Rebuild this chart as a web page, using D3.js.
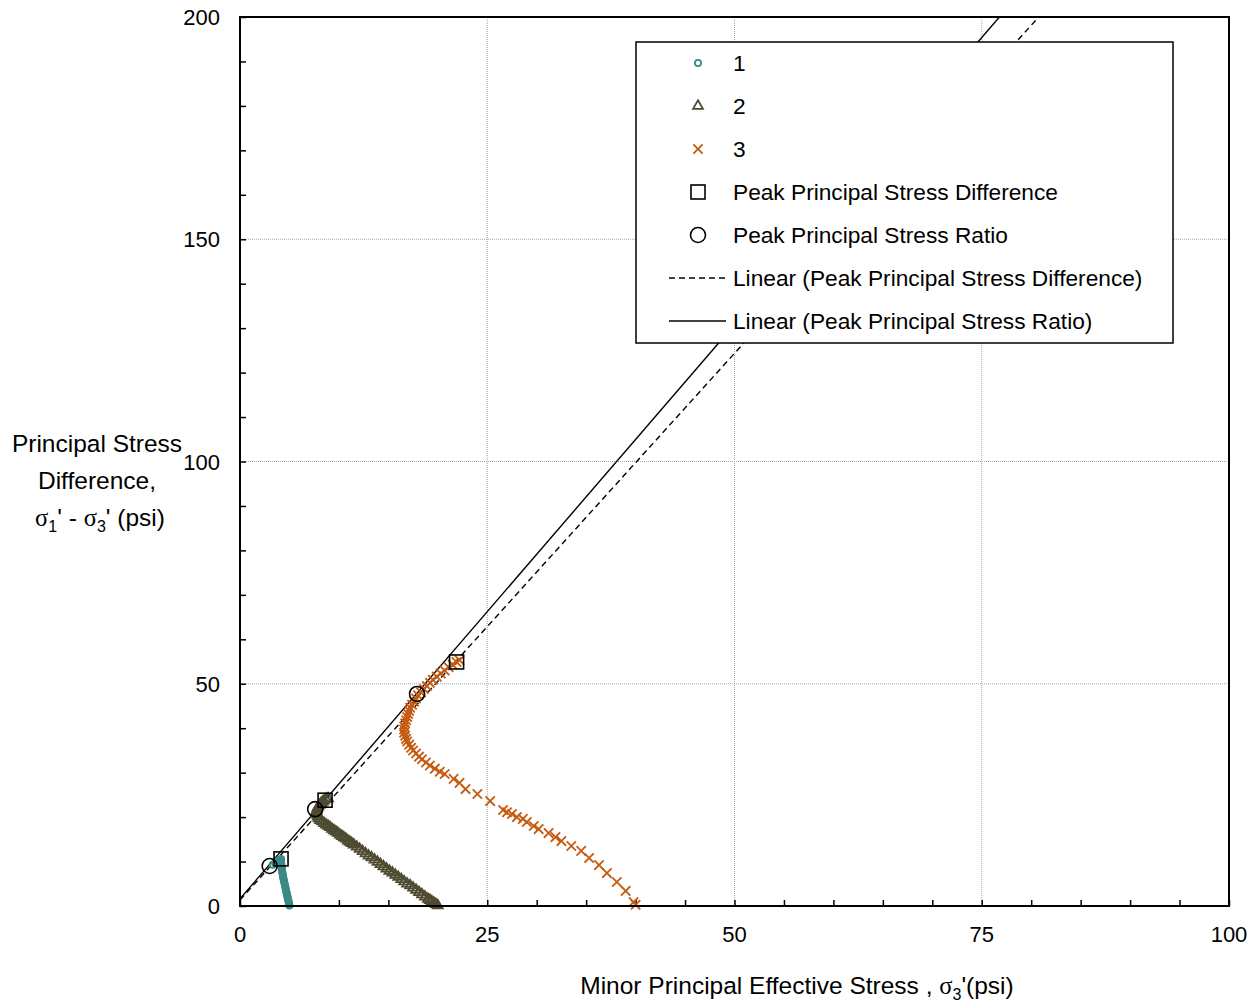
<!DOCTYPE html>
<html>
<head>
<meta charset="utf-8">
<script src="https://cdn.jsdelivr.net/npm/d3@7"></script>
<style>
  body { margin: 0; background: #fff; }
  text { font-family: "Liberation Sans", Arial, sans-serif; fill: #000; }
  .sig { font-family: "Liberation Serif", "Times New Roman", serif; }
</style>
</head>
<body>
<svg id="chart" width="1254" height="1002"></svg>
<script>
// test 1 (teal circles)
var s1x = [5.0,4.97,4.94,4.91,4.88,4.85,4.82,4.79,4.76,4.73,4.70,4.66,4.62,4.58,4.54,4.50,4.46,4.42,4.38,4.35,4.32,4.29,4.26,4.23,4.21,4.19,4.17,4.16,4.15,4.15,4.15,4.0,3.8,3.55,3.3];
var s1y = [0.1,0.4,0.7,1.0,1.3,1.6,1.9,2.2,2.5,2.8,3.1,3.5,3.9,4.3,4.7,5.1,5.5,5.9,6.3,6.7,7.1,7.5,7.9,8.3,8.7,9.1,9.5,9.9,10.2,10.45,10.6,10.4,10.1,9.7,9.3];
// test 2 (olive triangles)
var s2x = [20.0,19.8,19.6,19.4,19.2,19.0,18.7,18.4,18.1,17.8,17.5,17.2,16.9,16.6,16.3,16.0,15.7,15.4,15.1,14.8,14.5,14.2,13.9,13.6,13.3,13.0,12.7,12.4,12.1,11.8,11.5,11.3,11.1,10.9,10.7,10.5,10.3,10.1,9.9,9.7,9.5,9.3,9.1,8.9,8.7,8.5,8.3,8.1,7.95,7.85,7.8,7.75,7.75,7.8,7.9,8.05,8.2,8.35,8.5,8.7,8.9];
var s2y = [0.1,0.4,0.7,1.0,1.3,1.6,2.1,2.6,3.1,3.6,4.1,4.6,5.0,5.5,6.0,6.5,7.0,7.5,7.9,8.4,8.9,9.4,9.9,10.4,10.9,11.3,11.8,12.3,12.8,13.3,13.8,14.1,14.4,14.7,15.1,15.4,15.7,16.0,16.4,16.7,17.0,17.3,17.7,18.0,18.3,18.6,19.0,19.3,19.7,20.1,20.5,20.9,21.4,21.9,22.3,22.7,23.1,23.4,23.7,24.0,24.2];
// test 3 (orange crosses)
var s3x = [40.0,39.8,39.0,38.1,37.1,36.3,35.3,34.5,33.5,32.5,31.9,31.2,30.2,29.7,29.0,28.6,28.0,27.5,27.0,26.6,25.3,24.0,22.8,22.2,21.6,20.7,20.2,19.7,19.2,18.8,18.4,18.1,17.8,17.5,17.3,17.1,16.9,16.8,16.7,16.6,16.6,16.6,16.7,16.8,16.9,17.0,17.1,17.2,17.4,17.6,17.8,18.0,18.3,18.6,18.9,19.2,19.5,19.9,20.3,20.7,21.1,21.5,21.9,22.2];
var s3y = [0.3,0.9,3.4,5.4,7.4,9.2,10.8,12.4,13.5,14.6,15.5,16.4,17.3,18.0,18.9,19.6,20.0,20.7,21.1,21.6,23.6,25.2,26.3,27.7,28.6,29.7,30.2,30.9,31.6,32.3,33.0,33.6,34.3,35.0,35.6,36.3,37.0,37.6,38.3,39.0,39.7,40.4,41.1,41.8,42.5,43.2,43.9,44.6,45.3,46.0,46.7,47.4,48.1,48.8,49.5,50.2,50.9,51.6,52.3,53.0,53.7,54.3,54.9,55.3];
// peaks
var peakDiffX = [4.15, 8.6, 21.9];
var peakDiffY = [10.6, 23.8, 54.9];
var peakRatioX = [3.0, 7.6, 17.9];
var peakRatioY = [9.0, 21.8, 47.7];
// axes
var xTicks = [0, 25, 50, 75, 100];
var yTicks = [0, 50, 100, 150, 200];
var legendLabels = ["1", "2", "3", "Peak Principal Stress Difference", "Peak Principal Stress Ratio",
  "Linear (Peak Principal Stress Difference)", "Linear (Peak Principal Stress Ratio)"];

var seriesColors = ["#3b8a87", "#4f4b32", "#c55a11"];

var svg = d3.select("#chart");
var pL = 240, pR = 1229, pT = 17, pB = 906;

var x = d3.scaleLinear().domain([0, 100]).range([pL, pR]);
var y = d3.scaleLinear().domain([0, 200]).range([pB, pT]);

// gridlines
var grid = svg.append("g");
grid.selectAll("line.gx").data(xTicks.slice(1, -1)).enter().append("line")
  .attr("x1", d => x(d)).attr("x2", d => x(d))
  .attr("y1", pT).attr("y2", pB)
  .style("stroke", "#a6a6a6").style("stroke-width", 1).style("stroke-dasharray", "1,1");
grid.selectAll("line.gy").data(yTicks.slice(1, -1)).enter().append("line")
  .attr("x1", pL).attr("x2", pR)
  .attr("y1", d => y(d)).attr("y2", d => y(d))
  .style("stroke", "#a6a6a6").style("stroke-width", 1).style("stroke-dasharray", "1,1");

// axes, ticks inside
var xAxis = d3.axisBottom(x).ticks(20).tickSize(-6).tickFormat("");
var yAxis = d3.axisLeft(y).ticks(20).tickSize(-6).tickFormat("");
svg.append("g").attr("transform", "translate(0," + pB + ")").call(xAxis)
  .call(g => g.select(".domain").remove())
  .selectAll("line").style("stroke", "#000").style("stroke-width", 1.5);
svg.append("g").attr("transform", "translate(" + pL + ",0)").call(yAxis)
  .call(g => g.select(".domain").remove())
  .selectAll("line").style("stroke", "#000").style("stroke-width", 1.5);

// tick labels
svg.selectAll("text.xl").data(xTicks).enter().append("text")
  .attr("x", d => x(d)).attr("y", 942)
  .attr("text-anchor", "middle").style("font-size", "22px").text(d => d);
svg.selectAll("text.yl").data(yTicks).enter().append("text")
  .attr("x", 220).attr("y", d => y(d) + 8)
  .attr("text-anchor", "end").style("font-size", "22px").text(d => d);

// clip
svg.append("clipPath").attr("id", "clip").append("rect")
  .attr("x", pL).attr("y", pT).attr("width", pR - pL).attr("height", pB - pT);

// trendlines from peaks (least squares)
function fit(xs, ys) {
  var mx = d3.mean(xs), my = d3.mean(ys), sxy = 0, sxx = 0;
  xs.forEach(function(v, i) { sxy += (v - mx) * (ys[i] - my); sxx += (v - mx) * (v - mx); });
  var b = sxy / sxx;
  return {slope: b, icpt: my - b * mx};
}
function trend(f) {
  var xEnd = (200 - f.icpt) / f.slope;
  return [[0, f.icpt], [xEnd, 200]];
}
var lineGen = d3.line().x(d => x(d[0])).y(d => y(d[1]));
var fitDiff = fit(peakDiffX, peakDiffY);
var fitRatio = fit(peakRatioX, peakRatioY);
var trends = svg.append("g").attr("clip-path", "url(#clip)");
trends.append("path").attr("d", lineGen(trend(fitDiff)))
  .style("fill", "none").style("stroke", "#000").style("stroke-width", 1.4).style("stroke-dasharray", "6,4");
trends.append("path").attr("d", lineGen(trend(fitRatio)))
  .style("fill", "none").style("stroke", "#000").style("stroke-width", 1.4);

// series markers
var circleSym = d3.symbol().type(d3.symbolCircle).size(30);
var triSym = d3.symbol().type(d3.symbolTriangle).size(42);
var crossSym = d3.symbol().type(d3.symbolTimes).size(58);

function drawSeries(xs, ys, sym, color) {
  var pts = xs.map((v, i) => ({x: v, y: ys[i]}));
  svg.append("g").selectAll("path").data(pts).enter().append("path")
    .attr("d", sym)
    .attr("transform", d => "translate(" + x(d.x) + "," + y(d.y) + ")")
    .style("fill", "none").style("stroke", color).style("stroke-width", 1.8);
}
drawSeries(s1x, s1y, circleSym, seriesColors[0]);
drawSeries(s2x, s2y, triSym, seriesColors[1]);
drawSeries(s3x, s3y, crossSym, seriesColors[2]);

// peak markers
var peaks = svg.append("g");
peakDiffX.forEach(function(v, i) {
  peaks.append("rect").attr("x", x(v) - 7).attr("y", y(peakDiffY[i]) - 7)
    .attr("width", 14).attr("height", 14)
    .style("fill", "none").style("stroke", "#000").style("stroke-width", 1.6);
});
peakRatioX.forEach(function(v, i) {
  peaks.append("circle").attr("cx", x(v)).attr("cy", y(peakRatioY[i])).attr("r", 7.5)
    .style("fill", "none").style("stroke", "#000").style("stroke-width", 1.6);
});

// frame
svg.append("rect").attr("x", pL).attr("y", pT).attr("width", pR - pL).attr("height", pB - pT)
  .style("fill", "none").style("stroke", "#000").style("stroke-width", 2);

// legend
var lg = svg.append("g");
lg.append("rect").attr("x", 636).attr("y", 42).attr("width", 537).attr("height", 301)
  .style("fill", "#fff").style("stroke", "#000").style("stroke-width", 1.5);
var rowY = d => 63 + d * 43;
legendLabels.forEach(function(t, i) {
  lg.append("text").attr("x", 733).attr("y", rowY(i) + 8).style("font-size", "22.7px").text(t);
});
lg.append("path").attr("d", circleSym).attr("transform", "translate(698," + rowY(0) + ")")
  .style("fill", "none").style("stroke", seriesColors[0]).style("stroke-width", 1.8);
lg.append("path").attr("d", triSym).attr("transform", "translate(698," + rowY(1) + ")")
  .style("fill", "none").style("stroke", seriesColors[1]).style("stroke-width", 1.8);
lg.append("path").attr("d", crossSym).attr("transform", "translate(698," + rowY(2) + ")")
  .style("fill", "none").style("stroke", seriesColors[2]).style("stroke-width", 1.8);
lg.append("rect").attr("x", 691).attr("y", rowY(3) - 7).attr("width", 14).attr("height", 14)
  .style("fill", "none").style("stroke", "#000").style("stroke-width", 1.6);
lg.append("circle").attr("cx", 698).attr("cy", rowY(4)).attr("r", 7.5)
  .style("fill", "none").style("stroke", "#000").style("stroke-width", 1.6);
lg.append("line").attr("x1", 669).attr("x2", 726).attr("y1", rowY(5)).attr("y2", rowY(5))
  .style("stroke", "#000").style("stroke-width", 1.4).style("stroke-dasharray", "6,4");
lg.append("line").attr("x1", 669).attr("x2", 726).attr("y1", rowY(6)).attr("y2", rowY(6))
  .style("stroke", "#000").style("stroke-width", 1.4);

// axis titles
var yt = svg.append("text").attr("text-anchor", "middle").style("font-size", "24.5px");
yt.append("tspan").attr("x", 97).attr("y", 452).text("Principal Stress");
yt.append("tspan").attr("x", 97).attr("y", 489).text("Difference,");
var yt3 = svg.append("text").attr("x", 100).attr("y", 526).attr("text-anchor", "middle").style("font-size", "24.5px");
yt3.append("tspan").attr("class", "sig").text("σ");
yt3.append("tspan").attr("dy", 6).style("font-size", "16px").text("1");
yt3.append("tspan").attr("dy", -6).text("' - ");
yt3.append("tspan").attr("class", "sig").text("σ");
yt3.append("tspan").attr("dy", 6).style("font-size", "16px").text("3");
yt3.append("tspan").attr("dy", -6).text("' (psi)");

var xt = svg.append("text").attr("x", 797).attr("y", 994).attr("text-anchor", "middle").style("font-size", "24.5px");
xt.append("tspan").text("Minor Principal Effective Stress , ");
xt.append("tspan").attr("class", "sig").text("σ");
xt.append("tspan").attr("dy", 6).style("font-size", "16px").text("3");
xt.append("tspan").attr("dy", -6).text("'(psi)");
</script>
</body>
</html>
